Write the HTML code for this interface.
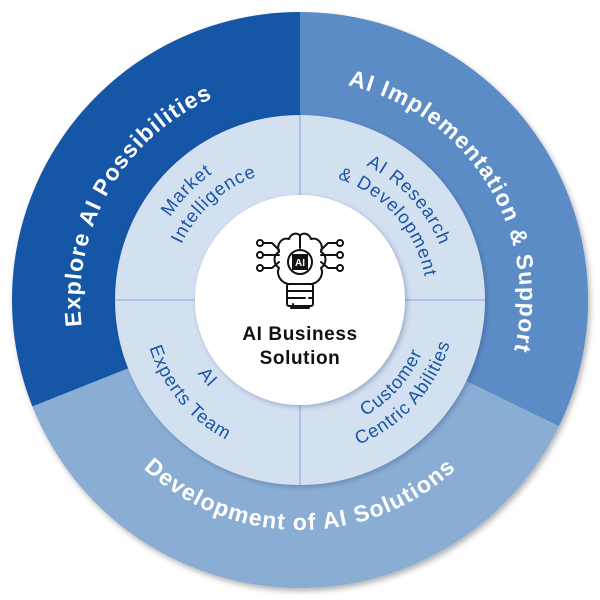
<!DOCTYPE html>
<html><head><meta charset="utf-8"><style>
html,body{margin:0;padding:0;background:#fff;}
svg{display:block;}
.o{font-family:"Liberation Sans",sans-serif;font-weight:bold;font-size:23px;fill:#fff;letter-spacing:1.2px;}
.i{font-family:"Liberation Sans",sans-serif;font-size:18.5px;fill:#1a56a8;letter-spacing:0.9px;}
</style></head><body>
<svg width="600" height="600" viewBox="0 0 600 600" xmlns="http://www.w3.org/2000/svg">
<defs>
<filter id="sh" x="-10%" y="-10%" width="120%" height="120%"><feDropShadow dx="2" dy="3" stdDeviation="3" flood-color="#000" flood-opacity="0.3"/></filter>
<filter id="sh2" x="-10%" y="-10%" width="120%" height="120%"><feDropShadow dx="2" dy="2" stdDeviation="2.5" flood-color="#1a3a6a" flood-opacity="0.3"/></filter>
<path id="pL" d="M158.6,468.5 A220,220 0 0 1 375.2,93.3"/>
<path id="pR" d="M217.6,96 A220,220 0 0 1 447.2,463.5"/>
<path id="pB" d="M73.5,339.9 A230,230 0 0 0 526.5,339.9"/>
<path id="m1" d="M152,342.4 A154,154 0 0 1 337.3,150.6"/>
<path id="m2" d="M171.9,327.2 A131,131 0 0 1 340.5,175.4"/>
<path id="r1" d="M267.5,153.6 A150,150 0 0 1 443.1,345.1"/>
<path id="r2" d="M274.7,175.6 A127,127 0 0 1 420.4,340.3"/>
<path id="e1" d="M181.6,256.9 A126,126 0 0 0 321.9,424.1"/>
<path id="e2" d="M151.5,246 A158,158 0 0 0 327.4,455.6"/>
<path id="c1" d="M272.3,430.1 A133,133 0 0 0 426.5,258.9"/>
<path id="c2" d="M267.6,452.6 A156,156 0 0 0 448.4,251.8"/>
</defs>
<g filter="url(#sh)">
<path d="M300,300 L32.4,406.5 A288,288 0 0 1 300,12 Z" fill="#1757a6"/>
<path d="M300,300 L300,12 A288,288 0 0 1 558.9,426.3 Z" fill="#5b8cc6"/>
<path d="M300,300 L558.9,426.3 A288,288 0 0 1 32.4,406.5 Z" fill="#8aadd4"/>
</g>
<circle cx="300" cy="300" r="185" fill="#d3e0f0" filter="url(#sh2)"/>
<line x1="300" y1="115" x2="300" y2="485" stroke="#94afd6" stroke-width="1.2"/>
<line x1="115" y1="300" x2="485" y2="300" stroke="#94afd6" stroke-width="1.2"/>
<circle cx="300" cy="300" r="105" fill="#fff" filter="url(#sh2)"/>

<text class="o"><textPath href="#pL" startOffset="50%" text-anchor="middle">Explore AI Possibilities</textPath></text>
<text class="o"><textPath href="#pR" startOffset="50%" text-anchor="middle">AI Implementation &amp; Support</textPath></text>
<text class="o"><textPath href="#pB" startOffset="50%" text-anchor="middle">Development of AI Solutions</textPath></text>

<text class="i"><textPath href="#m1" startOffset="50%" text-anchor="middle">Market</textPath></text>
<text class="i"><textPath href="#m2" startOffset="50%" text-anchor="middle">Intelligence</textPath></text>
<text class="i"><textPath href="#r1" startOffset="50%" text-anchor="middle">AI Research</textPath></text>
<text class="i"><textPath href="#r2" startOffset="50%" text-anchor="middle">&amp; Development</textPath></text>
<text class="i"><textPath href="#e1" startOffset="50%" text-anchor="middle">AI</textPath></text>
<text class="i"><textPath href="#e2" startOffset="50%" text-anchor="middle">Experts Team</textPath></text>
<text class="i"><textPath href="#c1" startOffset="50%" text-anchor="middle">Customer</textPath></text>
<text class="i"><textPath href="#c2" startOffset="50%" text-anchor="middle">Centric Abilities</textPath></text>

<g fill="none" stroke="#111" stroke-width="2" stroke-linecap="round" stroke-linejoin="round">
<path d="M288,284 C280,282 276,274 279,268 C273,264 273,255 279,252 C276,244 282,237 289,239 C291,233 298,232 300,236 C302,232 309,233 311,239 C318,237 324,244 321,252 C327,255 327,264 321,268 C324,274 320,282 312,284"/>
<path d="M300,236 L300,248"/>
<rect x="287" y="284" width="26" height="22" rx="2"/>
<path d="M287,291 H313 M287,298 H305 M309,298 H313 M293,304 V306"/>
<path d="M291,308 H309"/>
<path d="M263,243 H272 L279,250 M263,255 H279 M263,268 H272 L279,262"/>
<path d="M337,243 H328 L321,250 M337,255 H321 M337,268 H328 L321,262"/>
<circle cx="260" cy="243" r="3" fill="#fff"/><circle cx="260" cy="255" r="3" fill="#fff"/><circle cx="260" cy="268" r="3" fill="#fff"/>
<circle cx="340" cy="243" r="3" fill="#fff"/><circle cx="340" cy="255" r="3" fill="#fff"/><circle cx="340" cy="268" r="3" fill="#fff"/>
<circle cx="300" cy="262" r="12" fill="#fff"/>
</g>
<rect x="292" y="254" width="16" height="16" fill="#111"/>
<text x="300" y="266" text-anchor="middle" font-family="Liberation Sans,sans-serif" font-weight="bold" font-size="10" fill="#fff">AI</text>

<text x="300" y="340" text-anchor="middle" font-family="Liberation Sans,sans-serif" font-weight="bold" font-size="19" fill="#111" letter-spacing="0.6">AI Business</text>
<text x="300" y="364" text-anchor="middle" font-family="Liberation Sans,sans-serif" font-weight="bold" font-size="19" fill="#111" letter-spacing="0.6">Solution</text>
</svg>
</body></html>
